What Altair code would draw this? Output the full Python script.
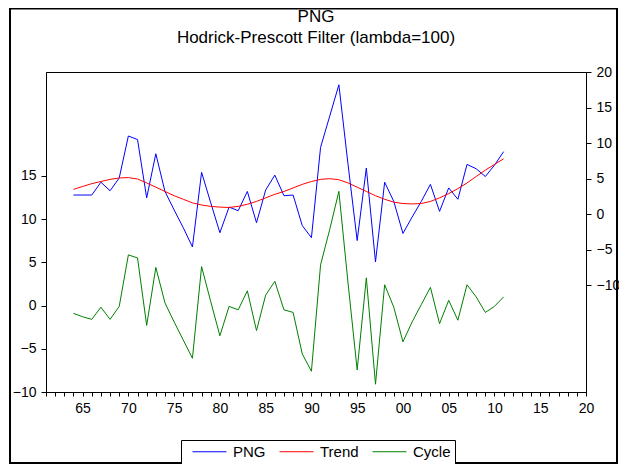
import altair as alt
import pandas as pd

years = list(range(1964, 2012))
png = [2.7, 2.7, 2.7, 4.5, 3.3, 5.1, 11.0, 10.5, 2.3, 8.5,
       3.2, 0.6, -1.9, -4.6, 5.9, 1.6, -2.6, 1.0, 0.5, 3.2,
       -1.2, 3.4, 5.5, 2.6, 2.7, -1.6, -3.3, 9.4, 13.8, 18.2,
       7.0, -3.7, 6.5, -6.7, 4.5, 1.8, -2.7, -0.4, 1.8, 4.2,
       0.4, 3.7, 2.1, 7.0, 6.4, 5.3, 6.9, 8.8]
trend = [3.5, 3.9, 4.3, 4.6, 4.9, 5.1, 5.15, 4.95, 4.4, 3.8,
         3.2, 2.6, 2.1, 1.6, 1.3, 1.1, 1.0, 0.95, 1.1, 1.4,
         1.8, 2.3, 2.8, 3.2, 3.7, 4.2, 4.6, 4.9, 5.0, 4.85,
         4.4, 3.8, 3.2, 2.6, 2.1, 1.7, 1.5, 1.45, 1.5, 1.8,
         2.3, 2.9, 3.6, 4.4, 5.3, 6.2, 7.0, 7.8]
cycle = [-0.9, -1.3, -1.6, -0.2, -1.6, -0.1, 5.85, 5.5, -2.3, 4.4,
         0.3, -1.9, -4.0, -6.1, 4.5, 0.45, -3.5, -0.1, -0.5, 1.7,
         -2.9, 1.2, 2.8, -0.5, -0.8, -5.6, -7.6, 4.7, 8.8, 13.2,
         2.6, -7.45, 3.2, -9.1, 2.4, -0.2, -4.2, -1.9, 0.1, 2.1,
         -2.1, 0.6, -1.7, 2.4, 1.0, -0.8, -0.1, 1.0]

series_names = ["PNG", "Trend", "Cycle"]
series_colors = ["#0000ff", "#ff0000", "#008000"]
left_ticks = [-10, -5, 0, 5, 10, 15]
right_ticks = [-10, -5, 0, 5, 10, 15, 20]
x_ticks = list(range(1961, 2021))

n = len(years)
df_r = pd.DataFrame({"year": years * 2, "value": png + trend,
                     "series": ["PNG"] * n + ["Trend"] * n})
df_l = pd.DataFrame({"year": years, "value": cycle, "series": ["Cycle"] * n})

FONT = "Liberation Sans"

color = alt.Color(
    "series:N",
    scale=alt.Scale(domain=series_names, range=series_colors),
    legend=alt.Legend(
        title=None, orient="none", legendX=135, legendY=368,
        direction="horizontal", symbolType="M0,0H6", symbolSize=128,
        symbolStrokeWidth=1, symbolFillColor="transparent",
        labelFontSize=15, labelFont=FONT,
        labelOffset=33, columnPadding=6, padding=4,
        strokeColor="black", fillColor="white", labelColor="black",
    ),
)

xenc = alt.X(
    "year:Q",
    scale=alt.Scale(domain=[1961, 2020], nice=False, zero=False),
    axis=alt.Axis(
        values=x_ticks, title=None, grid=False, tickSize=4,
        labelExpr="datum.value % 5 == 0 ? substring(toString(datum.value), 2) : ''",
        labelFontSize=14, labelPadding=5, labelFont=FONT,
        labelColor="black", tickColor="black", domainColor="black",
        labelFlush=False, labelOverlap=False,
    ),
)

right = alt.Chart(df_r).mark_line(strokeWidth=1).encode(
    x=xenc,
    y=alt.Y(
        "value:Q",
        scale=alt.Scale(domain=[-25, 20], nice=False, zero=False),
        axis=alt.Axis(
            orient="right", values=right_ticks, title=None, grid=False,
            tickSize=5, labelPadding=5, labelFontSize=14, labelFont=FONT,
            labelColor="black", tickColor="black", domainColor="black",
            labelFlush=False,
        ),
    ),
    color=color,
)

left = alt.Chart(df_l).mark_line(strokeWidth=1).encode(
    x=xenc,
    y=alt.Y(
        "value:Q",
        scale=alt.Scale(domain=[-10, 27], nice=False, zero=False),
        axis=alt.Axis(
            orient="left", values=left_ticks, title=None, grid=False,
            tickSize=5, labelPadding=5, labelFontSize=14, labelFont=FONT,
            labelColor="black", tickColor="black", domainColor="black",
            labelFlush=False,
        ),
    ),
    color=color,
)

frame = alt.Chart(pd.DataFrame({"a": [0]})).mark_rect(
    fill="white", fillOpacity=0, stroke="black", strokeWidth=2, clip=False
).encode(
    x=alt.value(-36), x2=alt.value(571), y=alt.value(-63.5), y2=alt.value(391)
)

chart = alt.layer(right, left, frame).resolve_scale(y="independent").properties(
    width=540, height=320,
    padding={"left": 38, "top": 64, "right": 33, "bottom": 72},
    autosize=alt.AutoSizeParams(type="none"),
    title=alt.Title(
        text=["PNG", "Hodrick-Prescott Filter (lambda=100)"],
        fontSize=17, fontWeight="normal", font=FONT, anchor="middle",
        frame="group", offset=-39, lineHeight=21, color="black",
    ),
).configure(background="white").configure_view(stroke="black", strokeWidth=1)

chart.save("out.html", embed_options={"renderer": "svg", "actions": False})
